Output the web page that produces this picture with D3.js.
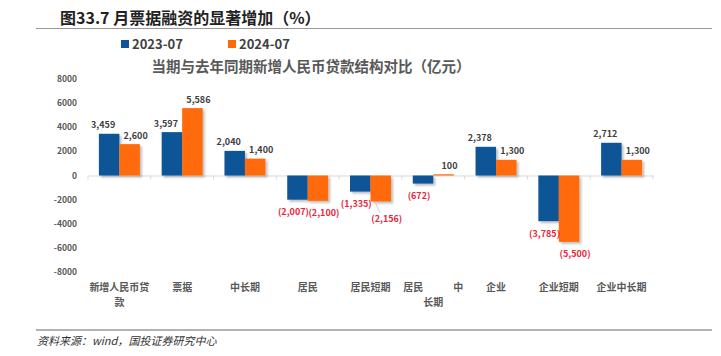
<!DOCTYPE html>
<html>
<head>
<meta charset="utf-8">
<script src="https://cdn.jsdelivr.net/npm/d3@7"></script>
<style>
  html, body { margin: 0; padding: 0; background: #fff; }
  svg { display: block; }
  text { font-family: "Noto Sans CJK SC", "Noto Sans", sans-serif; }
</style>
</head>
<body>
<svg id="chart" width="721" height="356"></svg>
<script>
// ---- data ----
const categories = ["新增人民币贷款", "票据", "中长期", "居民", "居民短期", "居民中长期", "企业", "企业短期", "企业中长期"];
const seriesNames = ["2023-07", "2024-07"];
const values2023 = [3459, 3597, 2040, -2007, -1335, -672, 2378, -3785, 2712];
const values2024 = [2600, 5586, 1400, -2100, -2156, 100, 1300, -5500, 1300];
const yTicks = [8000, 6000, 4000, 2000, 0, -2000, -4000, -6000, -8000];

const colors = ["#0d5597", "#ff6a08"];
const svg = d3.select("#chart");

// shadow filter
const defs = svg.append("defs");
const f = defs.append("filter").attr("id", "shadow").attr("x", "-20%").attr("y", "-20%").attr("width", "150%").attr("height", "150%");
f.append("feDropShadow").attr("dx", 2).attr("dy", 2).attr("stdDeviation", 1.2).attr("flood-color", "#000").attr("flood-opacity", 0.25);

// header
svg.append("text").attr("x", 60).attr("y", 24).attr("font-size", 16).attr("font-weight", 700)
  .attr("fill", "#222").text("图33.7 月票据融资的显著增加（%）");
svg.append("line").attr("x1", 36).attr("x2", 712).attr("y1", 28.5).attr("y2", 28.5).attr("stroke", "#999").attr("stroke-width", 1);
svg.append("line").attr("x1", 36).attr("x2", 712).attr("y1", 330).attr("y2", 330).attr("stroke", "#999").attr("stroke-width", 1.5);
svg.append("text").attr("x", 37).attr("y", 345).attr("font-size", 11).attr("font-style", "italic")
  .attr("fill", "#333").text("资料来源：wind，国投证券研究中心");

// legend
const legendX = [121, 228];
seriesNames.forEach((n, i) => {
  svg.append("rect").attr("x", legendX[i]).attr("y", 40).attr("width", 8).attr("height", 8).attr("fill", colors[i]);
  svg.append("text").attr("x", legendX[i] + 11).attr("y", 49).attr("font-size", 13).attr("font-weight", 700)
    .attr("fill", "#404040").text(n);
});

// chart title
svg.append("text").attr("x", 311).attr("y", 72).attr("text-anchor", "middle").attr("font-size", 14.5)
  .attr("font-weight", 700).attr("fill", "#595959").text("当期与去年同期新增人民币贷款结构对比（亿元）");

// scales
const x0 = d3.scaleBand().domain(categories).range([88, 653]).paddingInner(0).paddingOuter(0);
const y = d3.scaleLinear().domain([-8000, 8000]).range([272, 79]);
const barW = 20.5;

// y axis labels
svg.append("g").selectAll("text").data(yTicks).join("text")
  .attr("x", 77).attr("y", d => y(d) + 3).attr("text-anchor", "end").attr("font-size", 8.5)
  .attr("font-weight", 600).attr("fill", "#595959").text(d => d);

// x axis line
const xAxis = d3.axisBottom(x0).tickSize(0).tickFormat("");
const gx = svg.append("g").attr("transform", `translate(0,${y(0)})`).call(xAxis);
gx.select(".domain").attr("stroke", "#d9d9d9").attr("stroke-width", 1);
// boundary ticks
const bounds = categories.map(c => x0(c)).concat([x0.range()[1]]);
svg.append("g").selectAll("line").data(bounds).join("line")
  .attr("x1", d => d).attr("x2", d => d).attr("y1", y(0)).attr("y2", y(0) + 4)
  .attr("stroke", "#d9d9d9");

// bars
const data = categories.map((c, i) => ({ c, v: [values2023[i], values2024[i]] }));
const barsG = svg.append("g");
data.forEach(d => {
  const cx = x0(d.c) + x0.bandwidth() / 2;
  d.v.forEach((v, s) => {
    const bx = cx + (s === 0 ? -barW : 0);
    barsG.append("rect")
      .attr("x", bx).attr("width", barW)
      .attr("y", Math.min(y(v), y(0))).attr("height", Math.abs(y(v) - y(0)))
      .attr("fill", colors[s]).attr("filter", "url(#shadow)");
  });
});

// data labels
const fmt = v => v < 0 ? "(" + d3.format(",")(-v) + ")" : d3.format(",")(v);
const labelsG = svg.append("g");
data.forEach(d => {
  const cx = x0(d.c) + x0.bandwidth() / 2;
  const pos = [];
  d.v.forEach((v, s) => {
    const bc = cx + (s === 0 ? -barW / 2 : barW / 2);
    let lx = bc + (s === 0 ? -6 : 6);
    let ly;
    if (v >= 0) ly = y(v) - 9;
    else { lx = bc + (s === 0 ? -4 : 6); ly = y(v) + 12; }
    // push a partially overlapping negative label further down, with a leader line
    if (s === 1 && v < 0 && pos[0] && pos[0].v < 0) {
      const dy = ly - pos[0].y;
      if (dy >= 4 && dy < 14 && Math.abs(lx - pos[0].x) < 34) {
        const ny = pos[0].y + 15;
        labelsG.append("line").attr("x1", lx - 11).attr("x2", lx - 7).attr("y1", y(v) + 2).attr("y2", ny - 6)
          .attr("stroke", "#bbb").attr("stroke-width", 0.7);
        ly = ny;
      }
    }
    pos.push({ x: lx, y: ly, v });
    labelsG.append("text").attr("x", lx).attr("y", ly + 3.5).attr("text-anchor", "middle")
      .attr("font-size", 9).attr("font-weight", 700)
      .attr("fill", v < 0 ? "#e8263c" : "#404040").text(fmt(v));
  });
});

// category labels (wrapped like the original)
const catLines = {
  "新增人民币贷款": [[0, 0, "新增人民币贷"], [0, 1, "款"]],
  "居民中长期": [[-20, 0, "居民"], [25, 0, "中"], [0, 1, "长期"]]
};
const catG = svg.append("g");
categories.forEach(c => {
  const cx = x0(c) + x0.bandwidth() / 2;
  const lines = catLines[c] || [[0, 0, c]];
  lines.forEach(([dx, row, t]) => {
    catG.append("text").attr("x", cx + dx).attr("y", 291 + row * 15).attr("text-anchor", "middle")
      .attr("font-size", 10).attr("font-weight", 600).attr("fill", "#595959").text(t);
  });
});
</script>
</body>
</html>
